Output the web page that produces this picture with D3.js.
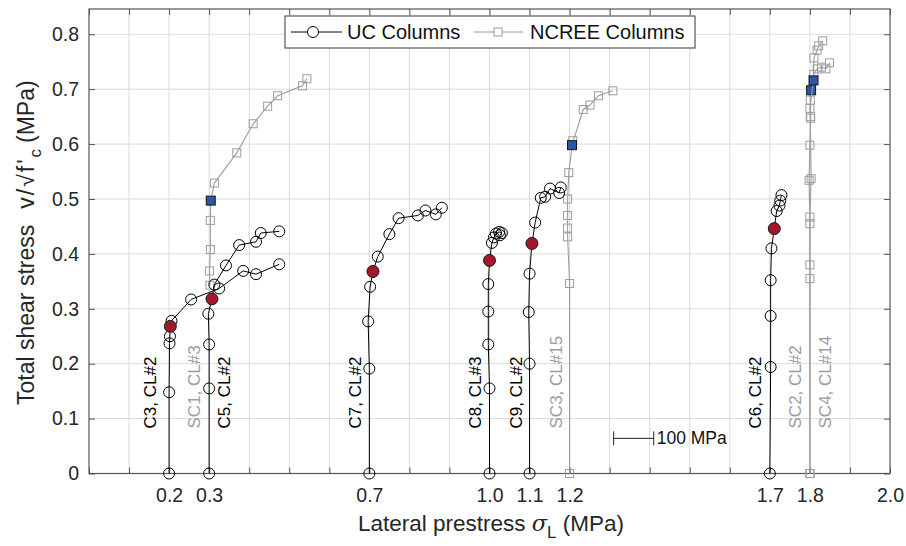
<!DOCTYPE html>
<html>
<head>
<meta charset="utf-8">
<script src="https://cdn.jsdelivr.net/npm/d3@7/dist/d3.min.js"></script>
<style>
    body { margin: 0; background: #fff; }
    svg { font-family: "Liberation Sans", Arial, Helvetica, sans-serif; }
</style>
</head>
<body>
<div id="chart"></div>
<script>
// ---- data: [lateral prestress axis position, v/sqrt(f'c)] ----

// UC columns (black circles)
const c3 = [[0.2, 0], [0.2, 0.148], [0.201, 0.237], [0.202, 0.25], [0.203, 0.268], [0.206, 0.278],
    [0.255, 0.317], [0.325, 0.337], [0.385, 0.369], [0.417, 0.363], [0.475, 0.381]];
const c5 = [[0.3, 0], [0.3, 0.155], [0.3, 0.235], [0.298, 0.291], [0.307, 0.318], [0.313, 0.344],
    [0.342, 0.379], [0.375, 0.416], [0.417, 0.422], [0.429, 0.438], [0.475, 0.441]];
const c7 = [[0.7, 0], [0.7, 0.191], [0.697, 0.277], [0.702, 0.34], [0.709, 0.368], [0.721, 0.395],
    [0.75, 0.436], [0.773, 0.465], [0.821, 0.47], [0.84, 0.479], [0.866, 0.472], [0.881, 0.484]];
const c8 = [[1.0, 0], [1.0, 0.155], [0.997, 0.235], [0.997, 0.295], [0.997, 0.345], [1.0, 0.388],
    [1.006, 0.42], [1.011, 0.43], [1.016, 0.437], [1.024, 0.44], [1.031, 0.438], [1.026, 0.434]];
const c9 = [[1.1, 0], [1.1, 0.2], [1.098, 0.294], [1.1, 0.364], [1.106, 0.419], [1.114, 0.457],
    [1.128, 0.502], [1.139, 0.504], [1.151, 0.519], [1.174, 0.511], [1.178, 0.521]];
const c6 = [[1.7, 0], [1.702, 0.194], [1.702, 0.287], [1.702, 0.352], [1.704, 0.41], [1.711, 0.446],
    [1.717, 0.478], [1.724, 0.488], [1.726, 0.497], [1.729, 0.507]];

// NCREE columns (grey squares)
const sc1 = [[0.302, 0.343], [0.301, 0.369], [0.303, 0.408], [0.303, 0.461], [0.304, 0.497], [0.313, 0.529],
    [0.369, 0.584], [0.41, 0.637], [0.446, 0.669], [0.471, 0.688], [0.533, 0.706], [0.544, 0.719]];
const sc3 = [[1.2, 0], [1.2, 0.346], [1.195, 0.431], [1.195, 0.447], [1.195, 0.47], [1.195, 0.5],
    [1.198, 0.548], [1.208, 0.606], [1.206, 0.598], [1.234, 0.663], [1.251, 0.671], [1.272, 0.688], [1.308, 0.697]];
const sc2 = [[1.8, 0], [1.8, 0.38], [1.8, 0.455], [1.798, 0.534], [1.8, 0.598], [1.802, 0.647],
    [1.801, 0.68], [1.803, 0.698], [1.81, 0.727], [1.818, 0.737], [1.829, 0.74], [1.84, 0.737], [1.849, 0.748]];
const sc4 = [[1.8, 0], [1.8, 0.355], [1.8, 0.467], [1.803, 0.537], [1.801, 0.65], [1.8, 0.665],
    [1.809, 0.716], [1.81, 0.757], [1.818, 0.771], [1.822, 0.779], [1.832, 0.788]];

const ucSeries = [c3, c5, c7, c8, c9, c6];
const ucYieldIndex = [4, 4, 4, 5, 4, 5];        // filled red marker
const ncreeSeries = [sc1, sc3, sc2, sc4];
const ncreeYieldIndex = [4, 8, 7, 6];           // filled blue marker

const xTickLabels = [0.2, 0.3, 0.7, 1.0, 1.1, 1.2, 1.7, 1.8, 2.0];
const yTickLabels = [0, 0.1, 0.2, 0.3, 0.4, 0.5, 0.6, 0.7, 0.8];

const specimenLabels = ["C3, CL#2", "SC1, CL#3", "C5, CL#2", "C7, CL#2", "C8, CL#3", "C9, CL#2",
    "SC3, CL#15", "C6, CL#2", "SC2, CL#2", "SC4, CL#14"];
const specimenBase = [0.2, 0.3, 0.3, 0.7, 1.0, 1.1, 1.2, 1.7, 1.8, 1.8];
const specimenIsNcree = [false, true, false, false, false, false, true, false, true, true];

// ---- layout ----
const width = 906, height = 546;
const x = d3.scaleLinear().domain([0, 2.0]).range([89, 890]);
const y = d3.scaleLinear().domain([0, 0.846]).range([473.5, 9]);

const black = "#000", grey = "#9c9c9c", red = "#a3172d", blue = "#2d56a8";

const svg = d3.select("#chart").append("svg")
    .attr("width", width)
    .attr("height", height);

// grid lines every 0.1
const gridX = d3.range(1, 20).map(i => i / 10);
const gridY = d3.range(1, 9).map(i => i / 10);
svg.append("g").selectAll("line").data(gridX).join("line")
    .attr("x1", d => x(d)).attr("x2", d => x(d))
    .attr("y1", y.range()[0]).attr("y2", y.range()[1])
    .attr("stroke", "#dadada").attr("stroke-width", 1);
svg.append("g").selectAll("line").data(gridY).join("line")
    .attr("x1", x.range()[0]).attr("x2", x.range()[1])
    .attr("y1", d => y(d)).attr("y2", d => y(d))
    .attr("stroke", "#dadada").attr("stroke-width", 1);

// axes (ticks inside, like the original figure)
const tickFmt = d => xTickLabels.some(t => Math.abs(t - d) < 1e-6) ? d3.format(".1f")(d) : "";
svg.append("g")
    .attr("transform", "translate(0," + y(0) + ")")
    .call(d3.axisBottom(x).tickValues(d3.range(0, 21).map(i => i / 10))
        .tickSizeInner(-6).tickSizeOuter(0).tickPadding(15).tickFormat(tickFmt));
svg.append("g")
    .attr("transform", "translate(0," + y.range()[1] + ")")
    .call(d3.axisTop(x).tickValues(d3.range(0, 21).map(i => i / 10))
        .tickSizeInner(-6).tickSizeOuter(0).tickFormat(""));
svg.append("g")
    .attr("transform", "translate(" + x(0) + ",0)")
    .call(d3.axisLeft(y).tickValues(yTickLabels)
        .tickSizeInner(-6).tickSizeOuter(0).tickPadding(10)
        .tickFormat(d => d === 0 ? "0" : d3.format(".1f")(d)));
svg.append("g")
    .attr("transform", "translate(" + x.range()[1] + ",0)")
    .call(d3.axisRight(y).tickValues(yTickLabels)
        .tickSizeInner(-6).tickSizeOuter(0).tickFormat(""));

svg.selectAll(".domain").remove();
svg.selectAll(".tick line").attr("stroke", "#555");
svg.selectAll(".tick text").attr("font-size", 19.5).attr("fill", "#262626")
    .attr("font-family", "Liberation Sans, Arial, sans-serif");

// frame
svg.append("rect")
    .attr("x", x.range()[0]).attr("y", y.range()[1])
    .attr("width", x.range()[1] - x.range()[0])
    .attr("height", y.range()[0] - y.range()[1])
    .attr("fill", "none").attr("stroke", "#555").attr("stroke-width", 1.2);

// axis titles
const xTitle = svg.append("text")
    .attr("x", 491).attr("y", 531)
    .attr("text-anchor", "middle")
    .attr("font-size", 22.5).attr("fill", "#262626");
xTitle.append("tspan").text("Lateral prestress ");
xTitle.append("tspan").attr("font-style", "italic").attr("font-family", "DejaVu Serif, serif").text("σ");
xTitle.append("tspan").attr("dy", 7).attr("font-size", 17).text("L");
xTitle.append("tspan").attr("dy", -7).text(" (MPa)");

// y title: plain words, then the tex-like part which is set a little looser in the original
const yTitle = svg.append("text")
    .attr("transform", "translate(34,405) rotate(-90)")
    .attr("text-anchor", "start")
    .attr("font-size", 23).attr("fill", "#262626");
yTitle.append("tspan").text("Total shear stress");
yTitle.append("tspan").attr("dx", 16).attr("letter-spacing", 2).text("v/√f'");
yTitle.append("tspan").attr("dy", 7).attr("font-size", 17).text("c");
yTitle.append("tspan").attr("dy", -7).attr("dx", 6).text("(MPa)");

// specimen labels (rotated)
const labelDx = [-19, -15, 15, -14, -14, -14, -14, -15, -15, 15];
svg.append("g").selectAll("text").data(specimenLabels).join("text")
    .attr("transform", (d, i) => "translate(" + (x(specimenBase[i]) + labelDx[i]) + "," + y(0.082) + ") rotate(-90)")
    .attr("dy", "0.35em")
    .attr("font-size", 17)
    .attr("fill", (d, i) => specimenIsNcree[i] ? grey : black)
    .text(d => d);

// scale bar: 0.1 axis units = 100 MPa
const bar = svg.append("g").attr("stroke", "#222").attr("stroke-width", 1);
bar.append("line").attr("x1", x(1.31)).attr("x2", x(1.41)).attr("y1", y(0.064)).attr("y2", y(0.064));
bar.append("line").attr("x1", x(1.31)).attr("x2", x(1.31)).attr("y1", y(0.064) - 7).attr("y2", y(0.064) + 7);
bar.append("line").attr("x1", x(1.41)).attr("x2", x(1.41)).attr("y1", y(0.064) - 7).attr("y2", y(0.064) + 7);
svg.append("text")
    .attr("x", x(1.41) + 3).attr("y", y(0.064) + 6)
    .attr("font-size", 17.5).attr("fill", "#111")
    .text("100 MPa");

const line = d3.line().x(d => x(d[0])).y(d => y(d[1]));

// NCREE columns
const ncree = svg.append("g");
ncreeSeries.forEach((s, k) => {
    ncree.append("path").datum(s)
        .attr("d", line).attr("fill", "none")
        .attr("stroke", grey).attr("stroke-width", 1.1);
    ncree.append("g").selectAll("rect").data(s).join("rect")
        .attr("x", d => x(d[0]) - 4).attr("y", d => y(d[1]) - 4)
        .attr("width", 8).attr("height", 8)
        .attr("fill", "none").attr("stroke", grey).attr("stroke-width", 1);
    const p = s[ncreeYieldIndex[k]];
    ncree.append("rect")
        .attr("x", x(p[0]) - 4.5).attr("y", y(p[1]) - 4.5)
        .attr("width", 9).attr("height", 9)
        .attr("fill", blue).attr("stroke", "#1a1a1a").attr("stroke-width", 1);
});

// UC columns
const uc = svg.append("g");
ucSeries.forEach((s, k) => {
    uc.append("path").datum(s)
        .attr("d", line).attr("fill", "none")
        .attr("stroke", black).attr("stroke-width", 1);
    uc.append("g").selectAll("circle").data(s).join("circle")
        .attr("cx", d => x(d[0])).attr("cy", d => y(d[1]))
        .attr("r", 5.5)
        .attr("fill", "none").attr("stroke", black).attr("stroke-width", 1);
    const p = s[ucYieldIndex[k]];
    uc.append("circle")
        .attr("cx", x(p[0])).attr("cy", y(p[1]))
        .attr("r", 6)
        .attr("fill", red).attr("stroke", "#222").attr("stroke-width", 1);
});

// legend
const legend = svg.append("g");
legend.append("rect")
    .attr("x", 285).attr("y", 16).attr("width", 410).attr("height", 32)
    .attr("fill", "#fff").attr("stroke", "#333").attr("stroke-width", 1);
legend.append("line").attr("x1", 291).attr("x2", 342).attr("y1", 32).attr("y2", 32)
    .attr("stroke", black).attr("stroke-width", 1);
legend.append("circle").attr("cx", 313).attr("cy", 32).attr("r", 5.5)
    .attr("fill", "#fff").attr("stroke", black);
legend.append("text").attr("x", 347).attr("y", 39).attr("font-size", 20).attr("fill", "#111")
    .text("UC Columns");
legend.append("line").attr("x1", 474).attr("x2", 523).attr("y1", 32).attr("y2", 32)
    .attr("stroke", grey).attr("stroke-width", 1);
legend.append("rect").attr("x", 494).attr("y", 28).attr("width", 8).attr("height", 8)
    .attr("fill", "#fff").attr("stroke", grey);
legend.append("text").attr("x", 530).attr("y", 39).attr("font-size", 20).attr("fill", "#111")
    .text("NCREE Columns");
</script>
</body>
</html>
